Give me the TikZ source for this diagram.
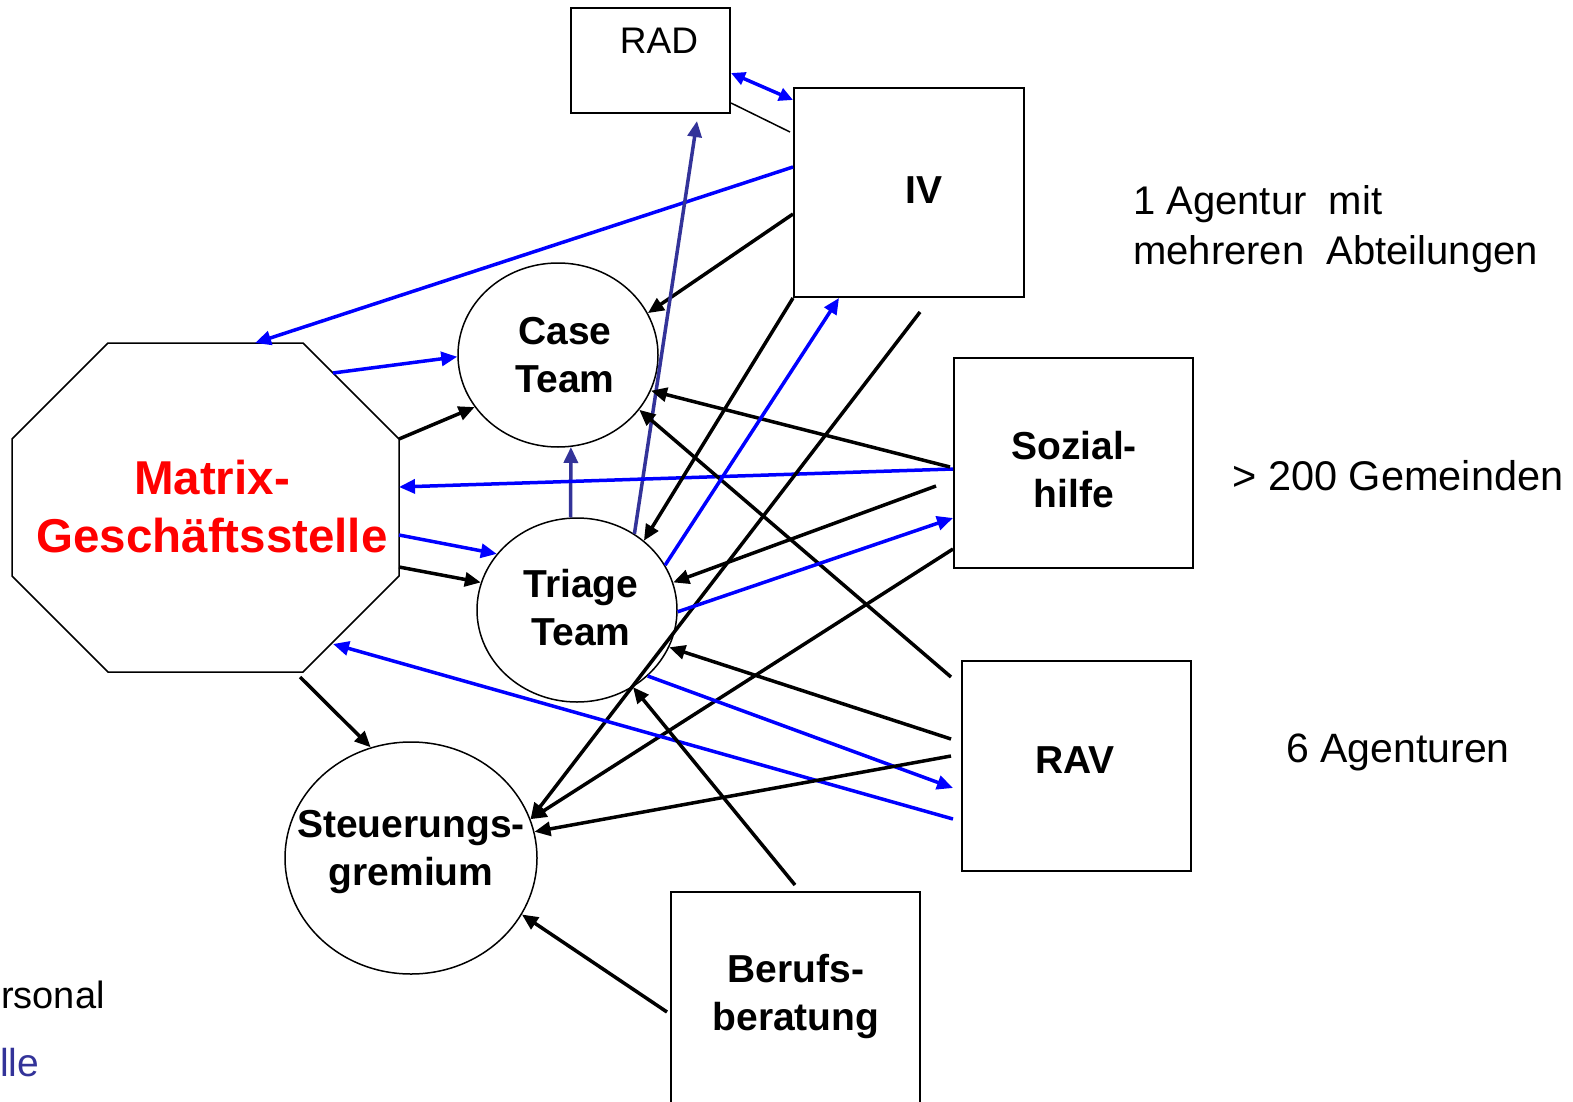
\documentclass[tikz,border=0pt]{standalone}
\usepackage{fontspec}
\setmainfont{Liberation Sans}
\usetikzlibrary{arrows.meta,shapes.geometric,calc}
\definecolor{pblue}{HTML}{0000FF}
\definecolor{dblue}{HTML}{333399}
\definecolor{pred}{HTML}{FF0000}
\begin{document}
\begin{tikzpicture}[x=1pt,y=-1pt,
  box/.style={draw=black,line width=2pt,inner sep=0pt},
  oval/.style={draw=black,ellipse,line width=1.5pt,inner sep=0pt},
  lbl/.style={font=\fontsize{39}{48}\selectfont\bfseries,align=center,inner sep=0pt},
  txt/.style={font=\fontsize{40}{50}\selectfont,inner sep=0pt},
  tip/.style={-{Triangle[length=16pt,width=14pt]}},
  blk/.style={line width=3.5pt,draw=black,tip},
  blu/.style={line width=3.5pt,draw=pblue,tip},
  dbl/.style={line width=3.5pt,draw=dblue,tip}]
\useasboundingbox (0,0) rectangle (1573,1102);
\fill[white] (0,0) rectangle (1573,1102);

% boxes
\node[box,minimum width=159pt,minimum height=105pt] (rad) at (650.5,60.5) {};
\node[box,minimum width=230pt,minimum height=209pt] (iv) at (909,192.5) {};
\node[box,minimum width=239pt,minimum height=210pt] (soz) at (1073.5,463) {};
\node[box,minimum width=229pt,minimum height=210pt] (rav) at (1076.5,766) {};
\node[box,minimum width=249pt,minimum height=240pt] (ber) at (795.5,1012) {};

% octagon
\draw[line width=1.5pt] (108,343) -- (303,343) -- (399,439) -- (399,576) -- (303,672)
  -- (108,672) -- (12,576) -- (12,439) -- cycle;
\coordinate (oTop) at (255,343);
\coordinate (oR1) at (333,373);
\coordinate (oR2) at (399,439);
\coordinate (oR3) at (399,487);
\coordinate (oR4) at (399,535);
\coordinate (oR5) at (399,567);
\coordinate (oR6) at (333,644);
\coordinate (oB) at (300,677);

% ellipses
\node[oval,minimum width=200pt,minimum height=184pt] (case) at (558,355) {};
\node[oval,minimum width=200pt,minimum height=184pt] (triage) at (577,610) {};
\node[oval,minimum width=252pt,minimum height=232pt] (steu) at (411,858) {};

% texts
\node[txt,font=\fontsize{37}{44}\selectfont,anchor=base] (radT) at (659,54) {RAD};
\node[lbl,anchor=base] (ivT) at (924,204) {IV};
\node[lbl] (caseT) at (565,355) {Case\\Team};
\node[lbl] (triT) at (581,608) {Triage\\Team};
\node[lbl] (steuT) at (411,852) {Steuerungs-\\gremium};
\node[lbl] (sozT) at (1074,470) {Sozial-\\hilfe};
\node[lbl] (ravT) at (1075,760) {RAV};
\node[lbl] (berT) at (796,996) {Berufs-\\beratung};
\node[lbl,font=\fontsize{47.5}{58}\selectfont\bfseries,text=pred] (matT) at (212,507) {Matrix-\\Geschäftsstelle};
\node[txt,align=left,anchor=west] (agT) at (1133,229) {1 Agentur~ mit\\mehreren~ Abteilungen};
\node[txt,font=\fontsize{41.5}{50}\selectfont] (gemT) at (1398,476) {> 200 Gemeinden};
\node[txt,font=\fontsize{41}{50}\selectfont] (sechsT) at (1398,752) {6 Agenturen};
\node[txt,font=\fontsize{38}{48}\selectfont,anchor=base west] (persT) at (1,1008) {rsonal};
\node[txt,font=\fontsize{39}{48}\selectfont,anchor=base west,text=dblue] (stT) at (0,1076) {lle};

% connectors
\draw[line width=3.5pt,draw=pblue,{Triangle[length=14pt,width=13pt]}-{Triangle[length=14pt,width=13pt]}]
  ($(rad.north east)+(0,66)$) -- ($(iv.north west)+(0,13)$);
\draw[line width=1.5pt] ($(rad.north east)+(0,96)$) -- ($(iv.north west)+(-3,45)$);
\draw[blu] ($(iv.north west)+(0,80)$) -- (oTop);
\draw[blk] ($(iv.north west)+(0,127)$) -- (case.25);
\draw[dbl] (triage.53) -- ($(rad.south west)+(127,7)$);
\draw[blu] (oR1) -- (case.181);
\draw[blk] (oR2) -- (case.212);
\draw[dbl] (triage.94) -- (case.278);
\draw[blu] ($(soz.north west)+(0,112)$) -- (oR3);
\draw[blk] ($(soz.north west)+(-3,110)$) -- (case.339);
\draw[blk] ($(rav.north west)+(-10,17)$) -- (case.326);
\draw[blk] (iv.south west) -- (triage.46);
\draw[blu] (triage.27) -- ($(iv.south west)+(46,0)$);
\draw[blk] ($(iv.south west)+(127,14)$) -- (steu.18);
\draw[blk] ($(soz.north west)+(0,192)$) -- (steu.18);
\draw[blk] ($(soz.north west)+(-17,129)$) -- (triage.16);
\draw[blu] (triage.359) -- ($(soz.north west)+(0,161)$);
\draw[blk] ($(rav.north west)+(-10,79)$) -- (triage.338);
\draw[blu] (triage.317) -- ($(rav.north west)+(-8,128)$);
\draw[blu] ($(rav.north west)+(-8,159)$) -- (oR6);
\draw[blk] ($(ber.north west)+(125,-6)$) -- (triage.306);
\draw[blk] ($(ber.north west)+(-3,121)$) -- (steu.333);
\draw[blk] ($(rav.north west)+(-10,96)$) -- (steu.12);
\draw[blu] (oR4) -- (triage.145);
\draw[blk] (oR5) -- (triage.164);
\draw[blk] (oB) -- (steu.110);
\end{tikzpicture}
\end{document}
